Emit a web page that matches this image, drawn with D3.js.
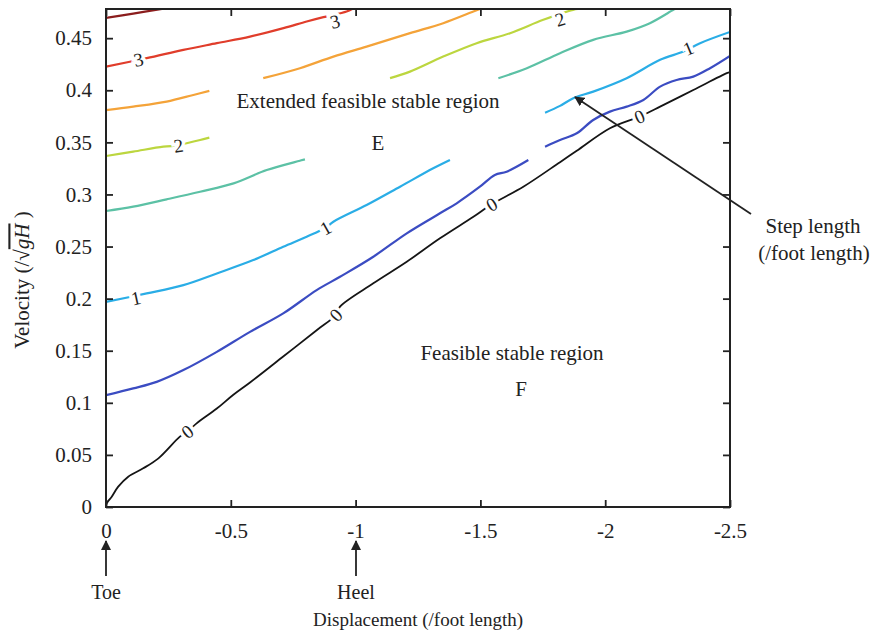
<!DOCTYPE html>
<html><head><meta charset="utf-8">
<script src="https://cdn.jsdelivr.net/npm/d3@7"></script>
<style>body{margin:0;background:#fff}svg{display:block}text{font-family:"Liberation Serif","Times New Roman",serif;fill:#222}</style>
</head><body><svg id="c" width="880" height="631"></svg>
<script>
// contour levels and colours
const levels = [0, 0.5, 1, 1.5, 2, 2.5, 3, 3.5];
const levelColors = ["#151515", "#3b4cc2", "#2aade6", "#5cc1a5", "#bcd63f", "#f4a339", "#e03d2b", "#8b1d1d"];

// contour segments: [displacement, velocity]
const contour0 = [[[0,0.001],[-0.003,0.0036],[-0.023,0.0099],[-0.049,0.0195],[-0.089,0.0291],[-0.149,0.0371],[-0.21,0.0467],[-0.296,0.0675],[-0.326,0.0723],[-0.363,0.0803],[-0.444,0.0945],[-0.509,0.1075],[-0.577,0.1195],[-0.71,0.1444],[-0.844,0.1697],[-0.921,0.1843],[-0.9375,0.1923],[-1.071,0.2147],[-1.205,0.2354],[-1.338,0.2579],[-1.472,0.2786],[-1.545,0.2905],[-1.672,0.3074],[-1.819,0.331],[-1.886,0.3419],[-2.019,0.3635],[-2.137,0.3747],[-2.22,0.3843],[-2.353,0.4003],[-2.487,0.4164],[-2.5,0.4175]]];
const contour05 = [
  [[0,0.1073],[-0.109,0.1138],[-0.203,0.1201],[-0.31,0.1314],[-0.444,0.1489],[-0.577,0.1681],[-0.71,0.1858],[-0.844,0.2082],[-0.9375,0.221],[-1.071,0.2402],[-1.205,0.2627],[-1.338,0.2819],[-1.405,0.2915],[-1.498,0.3074],[-1.558,0.3187],[-1.605,0.3218],[-1.692,0.333]],
  [[-1.759,0.3459],[-1.819,0.3523],[-1.886,0.3587],[-1.952,0.3715],[-2.019,0.3795],[-2.086,0.3843],[-2.153,0.3907],[-2.22,0.4035],[-2.286,0.4099],[-2.353,0.4131],[-2.42,0.4212],[-2.5,0.433]]];
const contour1 = [
  [[0,0.1969],[-0.163,0.205],[-0.31,0.213],[-0.444,0.2242],[-0.59,0.237],[-0.71,0.2498],[-0.804,0.2594],[-0.88,0.268],[-0.911,0.2738],[-1.044,0.2898],[-1.178,0.3074],[-1.311,0.3251],[-1.378,0.3331]],
  [[-1.759,0.3785],[-1.819,0.385],[-1.872,0.3924],[-1.952,0.3987],[-2.086,0.4116],[-2.22,0.4292],[-2.313,0.4371],[-2.38,0.4452],[-2.5,0.456]]];
const contour15 = [
  [[0,0.2841],[-0.109,0.2883],[-0.243,0.2953],[-0.377,0.3026],[-0.511,0.3106],[-0.644,0.3234],[-0.777,0.3324],[-0.797,0.3337]],
  [[-1.572,0.4116],[-1.686,0.4212],[-1.819,0.4356],[-1.952,0.4484],[-2.086,0.4563],[-2.179,0.4644],[-2.273,0.4772],[-2.28,0.478]]];
const contour2 = [
  [[0,0.3369],[-0.109,0.3411],[-0.23,0.3459],[-0.29,0.347],[-0.323,0.3491],[-0.377,0.3523],[-0.414,0.3545]],
  [[-1.138,0.4116],[-1.218,0.4179],[-1.351,0.4323],[-1.485,0.4452],[-1.619,0.4548],[-1.752,0.4676],[-1.871,0.4772],[-1.891,0.478]]];
const contour25 = [
  [[0,0.381],[-0.109,0.3843],[-0.243,0.3891],[-0.35,0.3955],[-0.414,0.3994]],
  [[-0.63,0.4116],[-0.777,0.4212],[-0.911,0.4323],[-1.044,0.4419],[-1.218,0.4548],[-1.351,0.4644],[-1.472,0.4756],[-1.498,0.478]]];
const contour3 = [[[0,0.4227],[-0.163,0.4308],[-0.31,0.4388],[-0.444,0.4452],[-0.577,0.4515],[-0.711,0.4596],[-0.804,0.466],[-0.871,0.4702],[-0.964,0.4756],[-0.986,0.478]]];
const contour35 = [[[0,0.4695],[-0.109,0.4736],[-0.224,0.478]]];
const contours = [contour0, contour05, contour1, contour15, contour2, contour25, contour3, contour35];

// inline contour labels: [levelIndex, displacement, velocity, text]
const contourLabels = [
  [0,-0.326,0.0723,"0"],[0,-0.921,0.1843,"0"],[0,-1.545,0.2905,"0"],[0,-2.137,0.3747,"0"],
  [2,-0.12,0.2005,"1"],[2,-0.88,0.268,"1"],[2,-2.333,0.4404,"1"],
  [4,-0.29,0.347,"2"],[4,-1.819,0.4682,"2"],
  [6,-0.13,0.4295,"3"],[6,-0.917,0.466,"3"]];

const xTicks = [0, -0.5, -1, -1.5, -2, -2.5];
const xTickLabels = ["0", "-0.5", "-1", "-1.5", "-2", "-2.5"];
const yTicks = [0, 0.05, 0.1, 0.15, 0.2, 0.25, 0.3, 0.35, 0.4, 0.45];
const yTickLabels = ["0", "0.05", "0.1", "0.15", "0.2", "0.25", "0.3", "0.35", "0.4", "0.45"];

const svg = d3.select("#c");
const L = 106, R = 730, T = 9, B = 507;
const x = d3.scaleLinear().domain([0, -2.5]).range([L, R]);
const y = d3.scaleLinear().domain([0, 0.478]).range([B, T]);

svg.append("defs").append("clipPath").attr("id","clip").append("rect")
  .attr("x",L).attr("y",T).attr("width",R-L).attr("height",B-T);

const line = d3.line().x(d => x(d[0])).y(d => y(d[1])).curve(d3.curveCatmullRom.alpha(0.5));
const g = svg.append("g").attr("clip-path","url(#clip)");
contours.forEach((segs, i) => {
  segs.forEach(s => g.append("path").attr("d", line(s)).attr("fill","none")
    .attr("stroke", levelColors[i]).attr("stroke-width", i===0?1.8:2.2).attr("stroke-linejoin","round"));
});

// labels on contours
contourLabels.forEach(([li, dx, vy, t]) => {
  const pts = contours[li].flat();
  let best = 0, bd = Infinity;
  pts.forEach((p, k) => { const dd = (x(p[0])-x(dx))**2 + (y(p[1])-y(vy))**2; if (dd < bd) { bd = dd; best = k; } });
  const a = pts[Math.max(0,best-1)], b = pts[Math.min(pts.length-1,best+1)];
  const ang = Math.atan2(y(b[1])-y(a[1]), x(b[0])-x(a[0])) * 180/Math.PI;
  svg.append("text").attr("transform", `translate(${x(dx)},${y(vy)}) rotate(${ang})`)
    .attr("text-anchor","middle").attr("dy","0.35em").attr("font-size",19)
    .attr("stroke","#fff").attr("stroke-width",7).attr("paint-order","stroke")
    .style("fill","#222").text(t);
});

// frame
svg.append("rect").attr("x",L).attr("y",T).attr("width",R-L).attr("height",B-T)
  .attr("fill","none").attr("stroke","#222").attr("stroke-width",2);

// axes (ticks inward)
const xa = svg.append("g").attr("transform",`translate(0,${B})`)
  .call(d3.axisBottom(x).tickValues(xTicks).tickFormat((d,i)=>xTickLabels[i]).tickSizeInner(-7).tickSizeOuter(0).tickPadding(16));
const xt = svg.append("g").attr("transform",`translate(0,${T})`)
  .call(d3.axisTop(x).tickValues(xTicks).tickFormat("").tickSizeInner(-7).tickSizeOuter(0));
const ya = svg.append("g").attr("transform",`translate(${L},0)`)
  .call(d3.axisLeft(y).tickValues(yTicks).tickFormat((d,i)=>yTickLabels[i]).tickSizeInner(-7).tickSizeOuter(0).tickPadding(14));
const yr = svg.append("g").attr("transform",`translate(${R},0)`)
  .call(d3.axisRight(y).tickValues(yTicks).tickFormat("").tickSizeInner(-7).tickSizeOuter(0));
[xa,xt,ya,yr].forEach(a => {
  a.select(".domain").remove();
  a.selectAll(".tick line").attr("stroke","#222").attr("stroke-width",1.8);
  a.selectAll("text").attr("font-size",21).attr("font-family","Liberation Serif, serif").style("fill","#222");
});

// annotations
function txt(px, py, s, size, anchor) {
  return svg.append("text").attr("x",px).attr("y",py).attr("font-size",size)
    .attr("text-anchor",anchor||"middle").attr("dy","0.35em").text(s);
}
txt(368, 101, "Extended feasible stable region", 21);
txt(378, 143, "E", 21);
txt(512, 353, "Feasible stable region", 21);
txt(521, 389, "F", 21);
txt(813, 226, "Step length", 21);
txt(814, 253, "(/foot length)", 21);
txt(106, 592, "Toe", 20);
txt(356, 592, "Heel", 20);
txt(418, 619, "Displacement (/foot length)", 19);

const defs = svg.select("defs");
defs.append("marker").attr("id","ah").attr("viewBox","0 0 10 10").attr("refX",9).attr("refY",5)
  .attr("markerWidth",10).attr("markerHeight",10).attr("orient","auto-start-reverse").attr("markerUnits","userSpaceOnUse")
  .append("path").attr("d","M0,0 L10,5 L0,10 z").attr("fill","#222");
function arrow(x1,y1,x2,y2){
  svg.append("line").attr("x1",x1).attr("y1",y1).attr("x2",x2).attr("y2",y2)
    .attr("stroke","#222").attr("stroke-width",1.8).attr("marker-end","url(#ah)");
}
arrow(751, 214, 575, 97);
arrow(106, 576, 106, 541);
arrow(356, 576, 356, 541);

// y axis title
const yt = svg.append("text").attr("transform","translate(22,280) rotate(-90)")
  .attr("text-anchor","middle").attr("dy","0.35em").attr("font-size",21);
yt.append("tspan").text("Velocity (/√");
yt.append("tspan").attr("font-style","italic").style("text-decoration","overline").text("gH");
yt.append("tspan").text(" )");
</script></body></html>
